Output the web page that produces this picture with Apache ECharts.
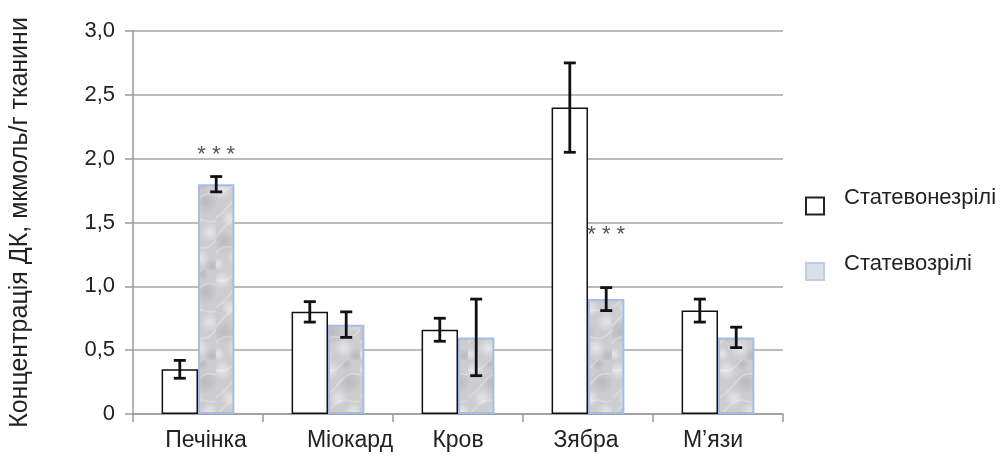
<!DOCTYPE html>
<html>
<head>
<meta charset="utf-8">
<script src="https://cdn.jsdelivr.net/npm/echarts@6/dist/echarts.min.js"></script>
<style>html,body{margin:0;padding:0;background:#fff}#c{width:1003px;height:460px}</style>
</head>
<body>
<div id="c"></div>
<script>
// ---- data ----
const categories = ['Печінка', 'Міокард', 'Кров', 'Зябра', 'М\u2019язи'];
const seriesNames = ['Статевонезрілі', 'Статевозрілі'];
const immatureValues = [0.35, 0.80, 0.66, 2.40, 0.81];
const immatureErrors = [0.07, 0.08, 0.09, 0.35, 0.09];
const matureValues = [1.80, 0.70, 0.60, 0.90, 0.60];
const matureErrors = [0.06, 0.10, 0.30, 0.09, 0.08];
const significance = ['***', '', '', '***', ''];
const significanceLevel = [2.03, 0, 0, 1.40, 0];
const yTicks = [0, 0.5, 1.0, 1.5, 2.0, 2.5, 3.0];

// ---- style ----
const FONT = '"Liberation Sans", Arial, sans-serif';
const labelShift = [8, 22, 0, -2, -5];

function makeTexture() {
  const W = 36, H = 90;
  const c = document.createElement('canvas');
  c.width = W; c.height = H;
  const g = c.getContext('2d');
  g.fillStyle = '#cdcdd0';
  g.fillRect(0, 0, W, H);
  const blobs = [
    [6, 10, 10, 1], [26, 22, 12, 0], [14, 38, 9, 1], [30, 52, 10, 1],
    [8, 62, 12, 0], [20, 78, 10, 1], [32, 86, 8, 0], [2, 84, 7, 1], [22, 4, 7, 0]
  ];
  blobs.forEach(b => {
    const grad = g.createRadialGradient(b[0], b[1], 0, b[0], b[1], b[2]);
    const col = b[3] ? '255,255,255' : '150,150,155';
    grad.addColorStop(0, 'rgba(' + col + ',' + (b[3] ? 0.5 : 0.35) + ')');
    grad.addColorStop(1, 'rgba(' + col + ',0)');
    g.fillStyle = grad;
    g.fillRect(0, 0, W, H);
  });
  g.lineCap = 'round';
  for (let i = 0; i < 4; i++) {
    g.strokeStyle = 'rgba(255,255,255,0.25)';
    g.lineWidth = 2;
    g.beginPath();
    for (let x = -2; x <= W + 2; x += 2) {
      const y = i * 22 + 10 + 5 * Math.sin((x + i * 9) / 7) - x * 0.5;
      if (x === -2) g.moveTo(x, y); else g.lineTo(x, y);
    }
    g.stroke();
  }
  return c;
}
const texture = makeTexture();

const chart = echarts.init(document.getElementById('c'), null, { renderer: 'canvas' });
const GAP = 0.44;

function errorSeries(values, errors, idx) {
  return {
    type: 'custom',
    z: 10,
    silent: true,
    data: values.map((v, i) => [i, v, errors[i]]),
    renderItem: function (params, api) {
      const ci = api.value(0), v = api.value(1), e = api.value(2);
      const band = api.size([1, 0])[0];
      const bw = band * (1 - GAP) / 2;
      const cx = api.coord([ci, v])[0] + (idx === 0 ? -bw / 2 : bw / 2);
      const yTop = api.coord([ci, v + e])[1];
      const yBot = api.coord([ci, v - e])[1];
      const cap = 6;
      const st = { stroke: '#111', lineWidth: 2.8 };
      return {
        type: 'group',
        children: [
          { type: 'line', shape: { x1: cx, y1: yTop, x2: cx, y2: yBot }, style: st },
          { type: 'line', shape: { x1: cx - cap, y1: yTop, x2: cx + cap, y2: yTop }, style: st },
          { type: 'line', shape: { x1: cx - cap, y1: yBot, x2: cx + cap, y2: yBot }, style: st }
        ]
      };
    }
  };
}

const option = {
  animation: false,
  backgroundColor: '#fff',
  textStyle: { fontFamily: FONT },
  grid: { left: 133, right: 220, top: 31, bottom: 46, containLabel: false },
  legend: {
    orient: 'vertical',
    left: 800,
    top: 182,
    itemGap: 37,
    itemWidth: 18,
    itemHeight: 17,
    icon: 'rect',
    formatter: n => '{t|' + n + '}',
    textStyle: {
      fontFamily: FONT, fontSize: 22, color: '#222',
      rich: { t: { fontFamily: FONT, fontSize: 22, color: '#222', padding: [0, 0, 16, 15] } }
    },
    data: [
      { name: seriesNames[0], itemStyle: { color: '#fff', borderColor: '#222', borderWidth: 2 } },
      { name: seriesNames[1], itemStyle: { color: '#dadfe8', borderColor: '#bccde9', borderWidth: 2 } }
    ]
  },
  xAxis: {
    type: 'category',
    data: categories.map((c, i) => ({
      value: c,
      textStyle: { padding: labelShift[i] >= 0 ? [0, 0, 0, labelShift[i] * 2] : [0, -labelShift[i] * 2, 0, 0] }
    })),
    axisLine: { lineStyle: { color: '#9a9a9a', width: 1.5 } },
    axisTick: { show: true, length: 8, lineStyle: { color: '#9a9a9a', width: 1.5 } },
    axisLabel: { fontSize: 23, color: '#222', margin: 15, fontFamily: FONT }
  },
  yAxis: {
    type: 'value',
    min: 0, max: 3, interval: 0.5,
    name: 'Концентрація ДК, мкмоль/г тканини',
    nameLocation: 'middle',
    nameRotate: 90,
    nameGap: 100,
    nameTextStyle: { fontSize: 25, color: '#222', fontFamily: FONT },
    axisLine: { show: true, lineStyle: { color: '#9a9a9a', width: 1.5 } },
    axisTick: { show: true, length: 8, lineStyle: { color: '#9a9a9a', width: 1.5 } },
    splitLine: { lineStyle: { color: '#a5a5a5', width: 1.5 } },
    axisLabel: {
      fontSize: 22, color: '#222', margin: 18, fontFamily: FONT,
      formatter: v => (yTicks.indexOf(v) >= 0 ? (v === 0 ? '0' : v.toFixed(1).replace('.', ',')) : '')
    }
  },
  series: [
    {
      name: seriesNames[0],
      type: 'bar',
      data: immatureValues,
      barGap: '0%',
      barCategoryGap: (GAP * 100) + '%',
      itemStyle: { color: '#ffffff', borderColor: '#111', borderWidth: 1.5 }
    },
    {
      name: seriesNames[1],
      type: 'bar',
      data: matureValues,
      barGap: '0%',
      barCategoryGap: (GAP * 100) + '%',
      itemStyle: { color: { image: texture, repeat: 'repeat' }, borderColor: '#a3bde8', borderWidth: 2 },
      markPoint: {
        symbol: 'circle', symbolSize: 1,
        itemStyle: { color: 'rgba(0,0,0,0)' },
        label: {
          show: true, position: 'inside', fontSize: 22, color: '#555', fontFamily: FONT,
          formatter: p => p.name.split('').join(' ')
        },
        data: significance.map((s, i) => s ? { name: s, coord: [i, significanceLevel[i]] } : null).filter(Boolean)
      }
    },
    errorSeries(immatureValues, immatureErrors, 0),
    errorSeries(matureValues, matureErrors, 1)
  ]
};
chart.setOption(option);
</script>
</body>
</html>
